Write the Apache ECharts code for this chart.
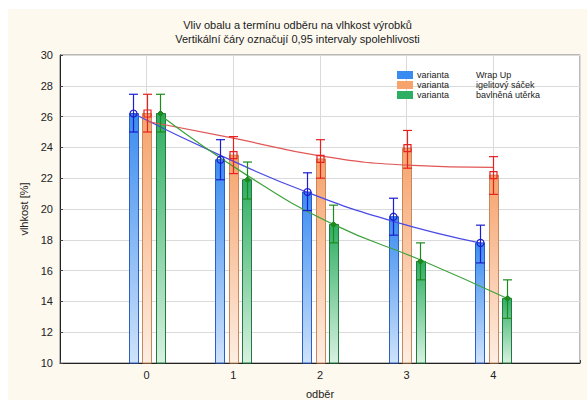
<!DOCTYPE html>
<html>
<head>
<meta charset="utf-8">
<script src="https://cdn.jsdelivr.net/npm/echarts@6/dist/echarts.min.js"></script>
<style>
html,body{margin:0;padding:0;background:#fff;width:587px;height:401px;overflow:hidden;}
#c{position:absolute;left:8px;top:9px;width:579px;height:391px;background:#fdf9ef;}
</style>
</head>
<body>
<div id="c"></div>
<script>
const titleLines = ['Vliv obalu a termínu odběru na vlhkost výrobků', 'Vertikální čáry označují 0,95 intervaly spolehlivosti'];
const categories = [0, 1, 2, 3, 4];
const seriesNames = ['Wrap Up', 'igelitový sáček', 'bavlněná utěrka'];
// means
const meanWrap = [26.2, 23.2, 21.1, 19.5, 17.8];
const meanIgel = [26.2, 23.5, 23.25, 23.95, 22.2];
const meanBavl = [26.2, 21.9, 19.0, 16.6, 14.2];
// 95% CI lower / upper
const loWrap = [25.0, 21.9, 19.9, 18.3, 16.5];
const hiWrap = [27.45, 24.5, 22.35, 20.7, 18.95];
const loIgel = [25.0, 22.3, 22.0, 22.65, 20.95];
const hiIgel = [27.45, 24.7, 24.5, 25.1, 23.4];
const loBavl = [25.0, 20.65, 17.8, 15.4, 12.9];
const hiBavl = [27.45, 23.05, 20.25, 17.8, 15.4];
// fitted trend curves
const fitWrap = [26.2, 23.5, 21.1, 19.2, 17.8];
const fitIgel = [25.7, 24.6, 23.45, 22.85, 22.7];
const fitBavl = [26.1, 22.2, 19.0, 16.7, 14.2];
const yTicks = [10, 12, 14, 16, 18, 20, 22, 24, 26, 28, 30];

const FONT = "'Liberation Sans', Arial, sans-serif";
const offsets = [-0.155, 0, 0.155];
const styles = [
  {top:'#3a8cf0', bottom:'#cfe3fa', border:'#2c5fc4', err:'#1c1cd0', fit:'#4a4ae6', marker:'circle'},
  {top:'#f6a36c', bottom:'#fdeee3', border:'#c98858', err:'#e82020', fit:'#e25555', marker:'square'},
  {top:'#2eae62', bottom:'#d8f1e1', border:'#237a3e', err:'#1e8a1e', fit:'#3ea23e', marker:'diamond'}
];
const means = [meanWrap, meanIgel, meanBavl];
const los = [loWrap, loIgel, loBavl];
const his = [hiWrap, hiIgel, hiBavl];
const fits = [fitWrap, fitIgel, fitBavl];

const chart = echarts.init(document.getElementById('c'), null, {renderer:'svg'});
const series = [];
seriesNames.forEach((name, s) => {
  const st = styles[s];
  series.push({
    type:'custom', name: name, z: 2,
    itemStyle:{color: st.top},
    encode:{x:0, y:1},
    data: categories.map((c, i) => [c + offsets[s], means[s][i]]),
    renderItem: function(params, api){
      const x = api.value(0), y = api.value(1);
      const p = api.coord([x, y]);
      const b = api.coord([x, 10]);
      const w = 9;
      return {type:'rect',
        shape:{x: Math.round(p[0] - w/2) + 0.5, y: p[1], width: w, height: b[1] - p[1]},
        style:{fill: new echarts.graphic.LinearGradient(0,0,0,1,[{offset:0,color:st.top},{offset:1,color:st.bottom}]), stroke: st.border, lineWidth: 1}
      };
    }
  });
});
seriesNames.forEach((name, s) => {
  const st = styles[s];
  series.push({
    type:'line', name: name + ' fit', smooth: true, symbol:'none', z: 3,
    lineStyle:{color: st.fit, width: 1.2},
    data: categories.map((c, i) => [c + offsets[s], fits[s][i]]),
    silent: true
  });
});
seriesNames.forEach((name, s) => {
  const st = styles[s];
  series.push({
    type:'custom', name: name + ' ci', z: 4, silent: true,
    encode:{x:0, y:[1,2,3]},
    data: categories.map((c, i) => [c + offsets[s], means[s][i], los[s][i], his[s][i]]),
    renderItem: function(params, api){
      const x = api.value(0);
      const m = api.coord([x, api.value(1)]);
      const lo = api.coord([x, api.value(2)]);
      const hi = api.coord([x, api.value(3)]);
      const cw = 4.5;
      const X = Math.round(m[0]) + 0.5;
      const ls = {stroke: st.err, lineWidth: 1.2, fill: null};
      const children = [
        {type:'line', shape:{x1:X, y1:hi[1], x2:X, y2:lo[1]}, style: ls},
        {type:'line', shape:{x1:X-cw, y1:hi[1], x2:X+cw, y2:hi[1]}, style: ls},
        {type:'line', shape:{x1:X-cw, y1:lo[1], x2:X+cw, y2:lo[1]}, style: ls}
      ];
      if (st.marker === 'circle') {
        children.push({type:'circle', shape:{cx:X, cy:m[1], r:3.5}, style:{stroke: st.err, lineWidth:1.2, fill:'rgba(0,0,0,0)'}});
      } else if (st.marker === 'square') {
        children.push({type:'rect', shape:{x:X-3.5, y:m[1]-3.5, width:7, height:7}, style:{stroke: st.err, lineWidth:1.2, fill:'rgba(0,0,0,0)'}});
      } else {
        children.push({type:'polygon', shape:{points:[[X, m[1]-3],[X+3, m[1]],[X, m[1]+3],[X-3, m[1]]]}, style:{fill: st.err, stroke: st.err, lineWidth:1}});
      }
      return {type:'group', children: children};
    }
  });
});

const option = {
  animation: false,
  textStyle: {fontFamily: FONT},
  graphic: [
    {type:'text', left: 'center', top: 9, style:{text: titleLines.join('\n'), fill:'#1a1a1a', font: '11px ' + FONT, textAlign:'center', lineHeight: 14}}
  ],
  legend: {
    orient:'vertical', left: 389, top: 61, itemGap: 0, itemWidth: 16, itemHeight: 8, padding: 0,
    icon: 'rect', data: seriesNames, selectedMode: false,
    formatter: function(n){ return '{a|varianta}{b|' + n + '}'; },
    textStyle: {fontFamily: FONT, fontSize: 9, color:'#222', lineHeight: 10, padding:[0,0,0,-1],
      rich:{a:{width:59, fontSize:9, lineHeight:10, fontFamily:FONT, color:'#222'}, b:{fontSize:9, lineHeight:10, fontFamily:FONT, color:'#222'}}}
  },
  grid: {left: 52, top: 46, right: 7, bottom: 37, show: true, backgroundColor:'#ffffff', borderColor:'#777', borderWidth:1, outerBoundsMode:'none', containLabel:false},
  xAxis: {
    type:'value', min:-1, max:5, interval:1,
    name:'odběr', nameLocation:'middle', nameGap: 25,
    nameTextStyle:{fontFamily:FONT, fontSize:11, color:'#222'},
    axisLine:{onZero:false, lineStyle:{color:'#222', width:1}},
    axisTick:{inside:true, length:3, lineStyle:{color:'#444'}},
    axisLabel:{fontFamily:FONT, fontSize:11, color:'#222', margin:6,
      formatter: function(v){ return categories.indexOf(v) >= 0 ? String(v) : ''; }},
    splitLine:{show:true, lineStyle:{color:'#dadada'}}
  },
  yAxis: {
    type:'value', min: yTicks[0], max: yTicks[yTicks.length-1], interval: 2,
    name:'vlhkost [%]', nameLocation:'middle', nameGap: 27,
    nameTextStyle:{fontFamily:FONT, fontSize:11, color:'#222'},
    axisLine:{show:true, onZero:false, lineStyle:{color:'#222', width:1}},
    axisTick:{inside:true, length:3, lineStyle:{color:'#444'}},
    axisLabel:{fontFamily:FONT, fontSize:11, color:'#222', margin:7},
    splitLine:{show:true, lineStyle:{color:'#dadada'}}
  },
  series: series
};
chart.setOption(option);
</script>
</body>
</html>
